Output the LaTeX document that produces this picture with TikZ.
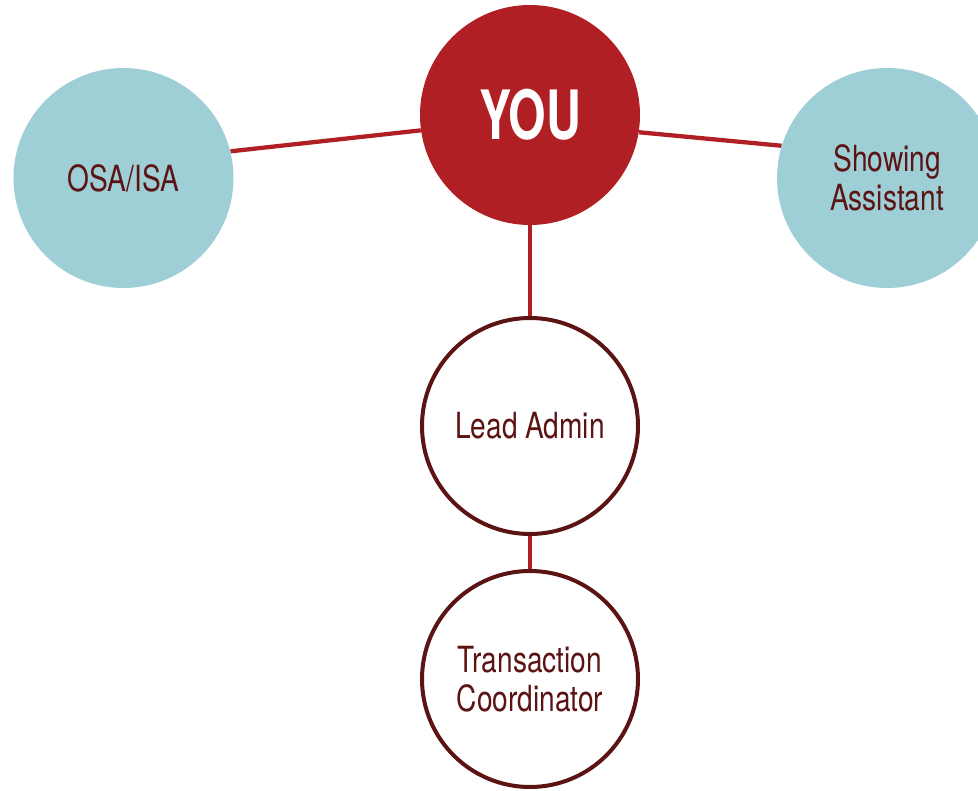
\documentclass[tikz,border=0pt]{standalone}
\usepackage{fontspec}
\setmainfont{TeX Gyre Heros}[FakeStretch=0.78]
\newfontfamily\youfont{TeX Gyre Heros}[FakeStretch=0.71]
\usetikzlibrary{backgrounds}
\definecolor{teamred}{HTML}{B01F24}
\definecolor{teal}{HTML}{9ECFD6}
\definecolor{maroon}{HTML}{5C1313}
\tikzset{
  hub/.style={circle, fill=teamred, inner sep=0pt, minimum size=165pt,
    text=white, font=\youfont\bfseries\fontsize{51}{55}\selectfont},
  peer/.style={circle, fill=teal, inner sep=0pt, minimum size=165pt,
    text=maroon, align=center, font=\fontsize{27}{29}\selectfont},
  staff/.style={circle, draw=maroon, line width=3pt, fill=white, inner sep=0pt,
    minimum size=162pt, text=maroon, align=center,
    font=\fontsize{27}{29}\selectfont},
  link/.style={draw=teamred, line width=3.2pt}
}
\begin{document}
\begin{tikzpicture}[x=0.75pt,y=-0.75pt]
\useasboundingbox (0,0) rectangle (978,791);
\clip (0,0) rectangle (978,791);
% people
\node[hub]   (you)  at (530,115)   {YOU};
\node[peer]  (osa)  at (123.5,178) {OSA/ISA};
\node[peer]  (show) at (887,178)   {Showing\\Assistant};
\node[staff] (lead) at (530,426)   {Lead Admin};
\node[staff] (tc)   at (530,679)   {Transaction\\Coordinator};
% reporting lines
\begin{scope}[on background layer]
  \draw[link] (osa.14) -- (you.188);
  \draw[link] (you.351) -- (show.163);
  \draw[link] (you.south) -- (lead.north);
  \draw[link] (lead.south) -- (tc.north);
\end{scope}
\end{tikzpicture}
\end{document}
